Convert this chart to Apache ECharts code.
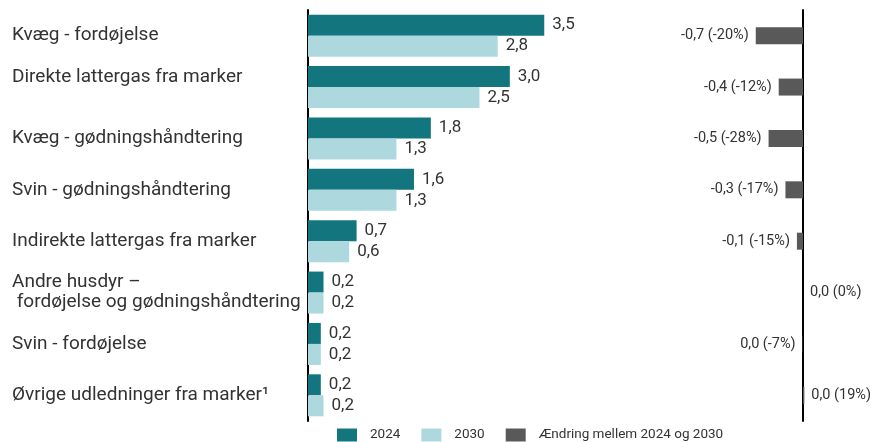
<!DOCTYPE html>
<html>
<head>
<meta charset="utf-8">
<script src="https://cdn.jsdelivr.net/npm/echarts@6/dist/echarts.min.js"></script>
<style>html,body{margin:0;padding:0;background:#fff}#c{width:871px;height:442px}</style>
</head>
<body>
<div id="c"></div>
<script>
const categories = [
  'Kvæg - fordøjelse',
  'Direkte lattergas fra marker',
  'Kvæg - gødningshåndtering',
  'Svin - gødningshåndtering',
  'Indirekte lattergas fra marker',
  'Andre husdyr –\n fordøjelse og gødningshåndtering',
  'Svin - fordøjelse',
  'Øvrige udledninger fra marker¹'
];
const values2024 = [3.5, 2.99, 1.82, 1.57, 0.72, 0.23, 0.19, 0.19];
const values2030 = [2.81, 2.54, 1.31, 1.31, 0.61, 0.23, 0.19, 0.23];
const changeValues = [-0.70, -0.36, -0.51, -0.26, -0.09, 0, -0.005, 0.02];
const changePct = [-20, -12, -28, -17, -15, 0, -7, 19];
const seriesNames = ['2024', '2030', 'Ændring mellem 2024 og 2030'];

const FONT = 'Roboto';
const fmt = v => {
  let s = (Math.round(v * 10) / 10).toFixed(1);
  if (s === '-0.0') s = '0.0';
  return s.replace('.', ',');
};

const chart = echarts.init(document.getElementById('c'), null, {renderer: 'canvas'});
chart.setOption({
  animation: false,
  textStyle: {fontFamily: FONT},
  grid: [
    {left: 308, top: 10, height: 411, width: 270},
    {left: 735.5, top: 10, height: 411, width: 74.25}
  ],
  xAxis: [
    {gridIndex: 0, type: 'value', min: 0, max: 4, show: false},
    {gridIndex: 1, type: 'value', min: -1, max: 0.1, show: false}
  ],
  yAxis: [
    {
      gridIndex: 0, type: 'category', inverse: true, data: categories,
      axisLine: {show: true, lineStyle: {color: '#000', width: 2}},
      axisTick: {show: false},
      splitLine: {show: false},
      axisLabel: {
        align: 'left', margin: 296, fontSize: 19, color: '#333', fontFamily: FONT,
        lineHeight: 20,
        formatter: v => v === 'Direkte lattergas fra marker' ? v + '\n' : v
      }
    },
    {
      gridIndex: 1, type: 'category', inverse: true, data: categories,
      axisLine: {show: true, onZero: true, lineStyle: {color: '#000', width: 2}},
      axisTick: {show: false},
      axisLabel: {show: false},
      splitLine: {show: false}
    }
  ],
  legend: {
    left: 332, top: 423,
    itemWidth: 20, itemHeight: 13, itemGap: 21,
    icon: 'rect',
    textStyle: {fontSize: 13.5, color: '#333', fontFamily: FONT, padding: [0, 0, 0, 8]},
    data: seriesNames
  },
  series: [
    {
      name: seriesNames[0], type: 'bar', xAxisIndex: 0, yAxisIndex: 0,
      data: values2024, barWidth: 21, barGap: '0%',
      itemStyle: {color: '#13757e'},
      label: {show: true, position: 'right', distance: 8, fontSize: 17, color: '#333', fontFamily: FONT,
        formatter: p => fmt(p.value)}
    },
    {
      name: seriesNames[1], type: 'bar', xAxisIndex: 0, yAxisIndex: 0,
      data: values2030, barWidth: 21, barGap: '0%',
      itemStyle: {color: '#acd8de'},
      label: {show: true, position: 'right', distance: 8, fontSize: 17, color: '#333', fontFamily: FONT,
        formatter: p => fmt(p.value)}
    },
    {
      name: seriesNames[2], type: 'bar', xAxisIndex: 1, yAxisIndex: 1,
      barWidth: 17,
      itemStyle: {color: '#595959'},
      data: changeValues.map((v, i) => ({
        value: v,
        label: {position: v < 0 ? 'left' : 'right'}
      })),
      label: {show: true, distance: 7, fontSize: 14.5, color: '#333', fontFamily: FONT,
        formatter: p => fmt(p.value) + ' (' + changePct[p.dataIndex] + '%)'}
    }
  ]
});
</script>
</body>
</html>
